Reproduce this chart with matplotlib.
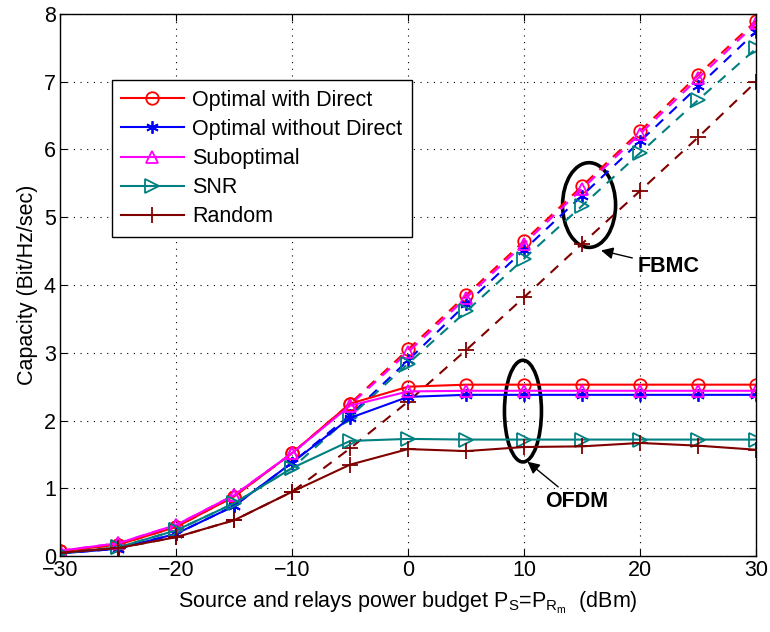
import numpy as np
import matplotlib
matplotlib.use('Agg')
import matplotlib.pyplot as plt
from matplotlib.patches import Ellipse

plt.rcParams['font.family'] = ['Liberation Sans', 'DejaVu Sans']
plt.rcParams['mathtext.fontset'] = 'custom'
plt.rcParams['mathtext.rm'] = 'Liberation Sans'
plt.rcParams['mathtext.it'] = 'Liberation Sans'
plt.rcParams['mathtext.default'] = 'regular'

# power budget (dBm)
power = [-30, -25, -20, -15, -10, -5, 0, 5, 10, 15, 20, 25, 30]

# OFDM capacity (solid)
ofdm_opt_direct = [0.07, 0.17, 0.43, 0.88, 1.52, 2.25, 2.50, 2.53, 2.53, 2.53, 2.53, 2.53, 2.53]
ofdm_opt_nodirect = [0.04, 0.11, 0.33, 0.74, 1.38, 2.04, 2.35, 2.38, 2.38, 2.38, 2.38, 2.38, 2.38]
ofdm_subopt = [0.08, 0.19, 0.46, 0.90, 1.52, 2.22, 2.43, 2.44, 2.44, 2.44, 2.44, 2.44, 2.44]
ofdm_snr = [0.04, 0.13, 0.38, 0.78, 1.30, 1.70, 1.73, 1.72, 1.72, 1.72, 1.72, 1.72, 1.72]
ofdm_random = [0.05, 0.12, 0.28, 0.53, 0.95, 1.35, 1.58, 1.55, 1.61, 1.62, 1.67, 1.63, 1.57]

# FBMC capacity (dashed)
fbmc_opt_direct = [0.07, 0.17, 0.43, 0.88, 1.52, 2.25, 3.05, 3.85, 4.65, 5.46, 6.27, 7.10, 7.90]
fbmc_opt_nodirect = [0.04, 0.11, 0.33, 0.74, 1.38, 2.08, 2.89, 3.72, 4.52, 5.32, 6.12, 6.93, 7.74]
fbmc_subopt = [0.08, 0.19, 0.46, 0.90, 1.52, 2.23, 3.01, 3.81, 4.61, 5.42, 6.23, 7.05, 7.86]
fbmc_snr = [0.04, 0.13, 0.38, 0.78, 1.30, 2.06, 2.84, 3.61, 4.39, 5.17, 5.95, 6.73, 7.49]
fbmc_random = [0.05, 0.12, 0.28, 0.53, 0.95, 1.59, 2.28, 3.04, 3.82, 4.61, 5.39, 6.18, 7.00]

labels = ['Optimal with Direct', 'Optimal without Direct', 'Suboptimal', 'SNR', 'Random']
colors = ['#ff0000', '#0000ff', '#ff00ff', '#008080', '#800000']
markers = ['o', (6, 2, 0), '^', '>', '+']
msizes = [9, 9, 9, 10, 12]

ofdm = [ofdm_opt_direct, ofdm_opt_nodirect, ofdm_subopt, ofdm_snr, ofdm_random]
fbmc = [fbmc_opt_direct, fbmc_opt_nodirect, fbmc_subopt, fbmc_snr, fbmc_random]

fs = 15.5

fig = plt.figure(figsize=(7.7, 6.32), dpi=100)
ax = fig.add_axes([0.078, 0.120, 0.904, 0.858])

for i in range(5):
    ax.plot(power, fbmc[i], color=colors[i], ls=(0, (5, 4)), lw=1.5,
            marker=markers[i], ms=msizes[i], mfc='none', mew=1.3)
for i in range(5):
    ax.plot(power, ofdm[i], color=colors[i], ls='-', lw=1.5,
            marker=markers[i], ms=msizes[i], mfc='none', mew=1.3, label=labels[i])

ax.set_xlim(-30, 30)
ax.set_ylim(0, 8)
ax.set_xticks(np.arange(-30, 31, 10))
ax.set_yticks(np.arange(0, 9, 1))
ax.grid(True, color='black', ls=(0, (1, 5)), lw=0.8)
ax.tick_params(direction='in', top=True, right=True, labelsize=fs, length=5, pad=3)
for s in ax.spines.values():
    s.set_linewidth(1.0)

ax.set_xlabel('Source and relays power budget P$_S$=P$_{R_m}$  (dBm)', fontsize=fs, labelpad=6)
ax.set_ylabel('Capacity (Bit/Hz/sec)', fontsize=fs, labelpad=4)

leg = ax.legend(loc='upper left', bbox_to_anchor=(0.074, 0.878), borderaxespad=0,
                fontsize=fs, fancybox=False, framealpha=1, edgecolor='black',
                handlelength=2.9, labelspacing=0.38, borderpad=0.45, handletextpad=0.4)
leg.get_frame().set_linewidth(1.0)

# annotations
ax.add_patch(Ellipse((15.6, 5.18), 4.57, 1.25, fill=False, lw=2.6, ec='black'))
ax.add_patch(Ellipse((9.9, 2.14), 3.19, 1.50, fill=False, lw=2.6, ec='black'))
ax.annotate('FBMC', xy=(16.4, 4.52), xytext=(19.8, 4.27), fontsize=fs, fontweight='bold',
            ha='left', va='center',
            arrowprops=dict(arrowstyle='-|>', color='black', lw=1, mutation_scale=18))
ax.annotate('OFDM', xy=(10.1, 1.42), xytext=(11.8, 0.80), fontsize=fs, fontweight='bold',
            ha='left', va='center',
            arrowprops=dict(arrowstyle='-|>', color='black', lw=1, mutation_scale=18))

fig.savefig('out.png', dpi=100)
